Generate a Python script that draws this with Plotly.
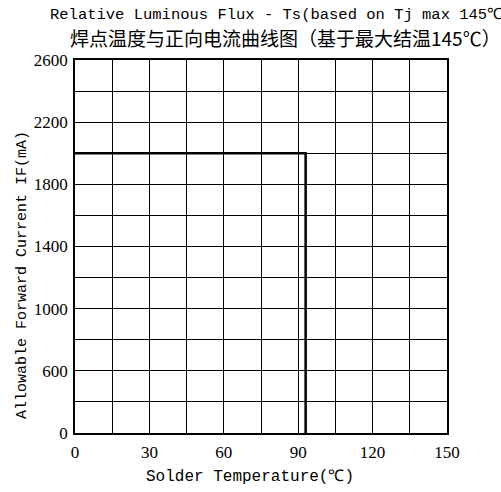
import plotly.graph_objects as go

# Data
temperature = [0, 93, 93]          # Solder temperature (°C)
current = [2000, 2000, 0]          # Allowable forward current IF (mA)

x_tick_vals = [0, 15, 30, 45, 60, 75, 90, 105, 120, 135, 150]
x_tick_text = ["0", "", "30", "", "60", "", "90", "", "120", "", "150"]
y_tick_vals = [200, 400, 600, 800, 1000, 1200, 1400, 1600, 1800, 2000, 2200, 2400, 2600]
y_tick_text = ["0", "", "600", "", "1000", "", "1400", "", "1800", "", "2200", "", "2600"]

title1 = "Relative Luminous Flux - Ts(based on Tj max 145℃"
title2 = "焊点温度与正向电流曲线图（基于最大结温145℃）"
x_title = "Solder Temperature(℃)"
y_title = "Allowable Forward Current IF(mA)"

W, H = 501, 492
L, R, T, B = 75, 54, 60, 59
pw, ph = W - L - R, H - T - B


def px(x):
    return (x - L) / pw


def py(y):
    return (H - B - y) / ph


mono = "Liberation Mono, DejaVu Sans Mono, monospace"
serif = "Liberation Serif, DejaVu Serif, serif"
cjk = "Noto Sans CJK SC, Noto Sans, sans-serif"

fig = go.Figure()
fig.add_trace(go.Scatter(
    x=temperature, y=current, mode="lines",
    line=dict(color="black", width=2.5),
    showlegend=False, hoverinfo="skip",
))

axis_common = dict(
    showgrid=True, gridcolor="black", gridwidth=1,
    showline=True, linecolor="black", linewidth=1.5, mirror=True,
    zeroline=False, ticks="", tickfont=dict(family=serif, size=17, color="black"),
    tickmode="array",
)

fig.update_xaxes(range=[0, 150], tickvals=x_tick_vals, ticktext=x_tick_text,
                 ticklabelstandoff=3, **axis_common)
fig.update_yaxes(range=[200, 2600], tickvals=y_tick_vals, ticktext=y_tick_text,
                 ticklabelstandoff=2, **axis_common)

fig.update_layout(
    width=W, height=H,
    margin=dict(l=L, r=R, t=T, b=B, pad=0),
    paper_bgcolor="white", plot_bgcolor="white",
    annotations=[
        dict(text=title1, x=px(48), y=py(15), xref="paper", yref="paper",
             xanchor="left", yanchor="middle", showarrow=False,
             font=dict(family=mono, size=15.5, color="black")),
        dict(text=title2, x=px(285), y=py(38), xref="paper", yref="paper",
             xanchor="center", yanchor="middle", showarrow=False,
             font=dict(family=cjk, size=19, color="black")),
        dict(text=x_title, x=px(250), y=py(477), xref="paper", yref="paper",
             xanchor="center", yanchor="middle", showarrow=False,
             font=dict(family=mono, size=16, color="black")),
        dict(text=y_title, x=px(22), y=py(275), xref="paper", yref="paper",
             xanchor="center", yanchor="middle", showarrow=False, textangle=-90,
             font=dict(family=mono, size=15, color="black")),
    ],
)

fig.write_html("out.html")
